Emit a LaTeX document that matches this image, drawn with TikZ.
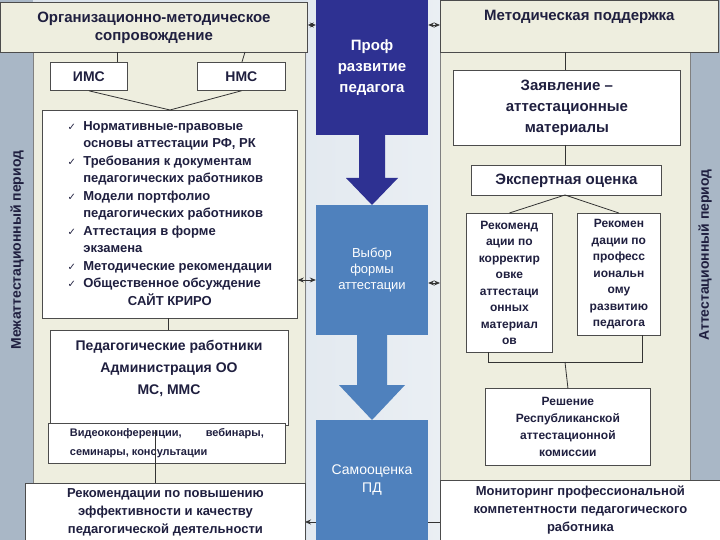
\documentclass[tikz,border=0pt]{standalone}
\usepackage{fontspec}
\setmainfont{Liberation Sans}
\newfontfamily\dejavu{DejaVu Sans}
\usetikzlibrary{arrows.meta}
\definecolor{beige}{HTML}{EEEEDF}
\definecolor{strip}{HTML}{A9B7C6}
\definecolor{bgc}{HTML}{DCE4EC}
\definecolor{dkblue}{HTML}{2E3192}
\definecolor{mdblue}{HTML}{4F81BD}
\definecolor{txt}{HTML}{1F1F3F}
\newcommand{\ck}{{\dejavu\mdseries\fontsize{10}{12}\selectfont ✓}}
\tikzset{
 bx/.style={draw=black!70,line width=0.8pt,fill=white,inner sep=2pt,align=center,font=\bfseries\fontsize{14}{17}\selectfont,text=txt},
 bg/.style={bx,fill=beige},
 ln/.style={draw=black!80,line width=0.8pt},
 dar/.style={ln,{Stealth[length=6pt,width=5pt]}-{Stealth[length=6pt,width=5pt]}},
}
\begin{document}
\begin{tikzpicture}[x=1pt,y=-1pt]
\useasboundingbox (0,0) rectangle (720,540);
\fill[bgc] (0,0) rectangle (720,540);
\fill[left color=bgc!80!white,right color=bgc!60!white] (307,0) rectangle (440,540);
% strips and panels
\fill[strip] (0,0) rectangle (33,540);
\fill[strip] (690,0) rectangle (720,540);
\fill[beige,draw=black!50] (33,50) rectangle (305,515);
\fill[beige,draw=black!50] (440,50) rectangle (690,480);
\node[rotate=90,font=\bfseries\fontsize{14}{16}\selectfont,text=txt] (lbl1) at (17,250) {Межаттестационный период};
\node[rotate=90,font=\bfseries\fontsize{14}{16}\selectfont,text=txt] (lbl2) at (705,255) {Аттестационный период};
% bottom arrow (behind)
\coordinate (mr) at (440,522);
\coordinate (ml) at (305,522);
\draw[ln,-{Stealth[length=6pt,width=5pt]}] (mr) -- (ml);
% center column
\node[fill=dkblue,minimum width=112pt,minimum height=135pt,text=white,align=center,font=\bfseries\fontsize{15}{21}\selectfont,anchor=north] (prof) at (372,0) {Проф\\развитие\\педагога};
\fill[dkblue] (359,135) -- (385,135) -- (385,178) -- (398,178) -- (372,205) -- (346,178) -- (359,178) -- cycle;
\node[fill=mdblue,minimum width=112pt,minimum height=130pt,text=white,align=center,font=\fontsize{13}{16}\selectfont,anchor=north] (vyb) at (372,205) {Выбор\\формы\\аттестации};
\fill[mdblue] (357,335) -- (387,335) -- (387,385) -- (405,385) -- (372,420) -- (339,385) -- (357,385) -- cycle;
\node[fill=mdblue,minimum width=112pt,minimum height=120pt,text=white,align=center,font=\fontsize{14}{18}\selectfont,anchor=north] (samo) at (372,420) {Самооценка\\ПД};
% left side
\node[bg,minimum width=307pt,minimum height=50pt,anchor=north west,font=\bfseries\fontsize{15}{18}\selectfont] (org) at (0,2) {Организационно-методическое\\сопровождение};
\node[bx,minimum width=77pt,minimum height=28pt,anchor=north west] (ims) at (50,62) {ИМС};
\node[bx,minimum width=88pt,minimum height=28pt,anchor=north west] (nms) at (197,62) {НМС};
\draw[ln] (117,52) -- (117,62);
\draw[ln] (245,52) -- (242,62);
\node[bx,minimum width=255pt,minimum height=208pt,anchor=north west,align=left,font=\bfseries\fontsize{13}{17.5}\selectfont] (list) at (42,110) {%
\begin{tabular}{@{}l@{\ \ }l@{}}
\ck & Нормативные-правовые\\
 & основы аттестации РФ, РК\\
\ck & Требования к документам\\
 & педагогических работников\\
\ck & Модели портфолио\\
 & педагогических работников\\
\ck & Аттестация в форме\\
 & экзамена\\
\ck & Методические рекомендации\\
\ck & Общественное обсуждение\\
\multicolumn{2}{c}{САЙТ КРИРО}
\end{tabular}};
\coordinate (conv) at (170,110);
\draw[ln] (ims.south) -- (conv) -- (nms.south);
\node[bx,minimum width=238pt,minimum height=95pt,anchor=north west] (ped) at (50,330) {};
\node[font=\bfseries\fontsize{14}{22}\selectfont,text=txt,align=center] (pedt) at (169,368) {Педагогические работники\\Администрация ОО\\МС, ММС};
\draw[ln] (168,318) -- (ped.north -| 168,0);
\node[bx,minimum width=237pt,minimum height=40pt,anchor=north west,align=left,font=\bfseries\fontsize{11}{19}\selectfont,fill=white] (vid) at (48,423) {Видеоконференции,\hspace{2.2em}вебинары,\\семинары, консультации\hspace{8em}};
\node[bx,minimum width=280pt,minimum height=57pt,anchor=north west,font=\bfseries\fontsize{13}{18}\selectfont] (rec) at (25,483) {Рекомендации по повышению\\эффективности и качеству\\педагогической деятельности};
\draw[ln] (155,430) -- (rec.north -| 155,0);
% right side
\node[bg,minimum width=278pt,minimum height=52pt,anchor=north west,text depth=22pt,font=\bfseries\fontsize{15}{17}\selectfont] (met) at (440,0) {Методическая поддержка};
\node[bx,minimum width=227pt,minimum height=75pt,anchor=north west,font=\bfseries\fontsize{15}{21}\selectfont] (zay) at (453,70) {Заявление –\\аттестационные\\материалы};
\node[bx,minimum width=190pt,minimum height=30pt,anchor=north west,font=\bfseries\fontsize{15}{18}\selectfont] (eks) at (471,165) {Экспертная оценка};
\draw[ln] (565,52) -- (565,70);
\draw[ln] (565,145) -- (565,165);
\node[bx,minimum width=86pt,minimum height=139pt,anchor=north west,font=\bfseries\fontsize{12}{16.5}\selectfont] (r1) at (466,213) {Рекоменд\\ации по\\корректир\\овке\\аттестаци\\онных\\материал\\ов};
\node[bx,minimum width=83pt,minimum height=122pt,anchor=north west,font=\bfseries\fontsize{12}{16.5}\selectfont] (r2) at (577,213) {Рекомен\\дации по\\професс\\иональн\\ому\\развитию\\педагога};
\coordinate (ec) at (565,195);
\draw[ln] (r1.north) -- (ec) -- (r2.north);
\coordinate (b1) at (488,362);
\coordinate (b2) at (642,362);
\draw[ln] (488,352) -- (b1) -- (b2) -- (642,335);
\node[bx,minimum width=165pt,minimum height=77pt,anchor=north west,font=\bfseries\fontsize{12}{17}\selectfont] (resh) at (485,388) {Решение\\Республиканской\\аттестационной\\комиссии};
\draw[ln] (565,362) -- (resh.north);
\node[bx,minimum width=280pt,minimum height=60pt,anchor=north west,font=\bfseries\fontsize{13}{18}\selectfont] (mon) at (440,480) {Мониторинг профессиональной\\компетентности педагогического\\работника};
% double arrows
\draw[dar] (org.east |- 0,25) -- (prof.west |- 0,25);
\draw[dar] (prof.east |- 0,25) -- (met.west |- 0,25);
\draw[dar] (list.east |- 0,280) -- (vyb.west |- 0,280);
\draw[dar] (vyb.east |- 0,283) -- (440,283);
\end{tikzpicture}
\end{document}
